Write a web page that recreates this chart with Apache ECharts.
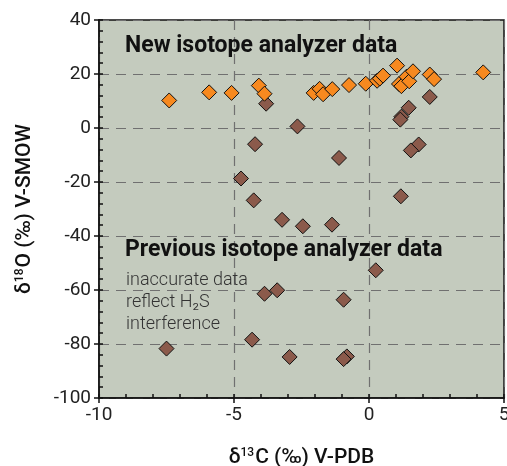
<!DOCTYPE html>
<html><head><meta charset="utf-8">
<script src="https://cdn.jsdelivr.net/npm/echarts@6/dist/echarts.min.js"></script>
<style>html,body{margin:0;padding:0;background:#fff}#c{width:507px;height:466px}</style>
</head><body><div id="c"></div>
<script>
// New isotope analyzer data: [d13C, d18O]
var newX = [-7.40, -5.92, -5.09, -4.08, -3.87, -2.05, -1.83, -1.70, -1.36, -0.74, -0.12, 0.30, 0.40, 0.52, 1.04, 1.11, 1.20, 1.39, 1.49, 1.63, 2.25, 2.41, 4.23];
var newY = [10.2, 13.2, 13.0, 15.7, 12.7, 13.0, 14.5, 12.5, 14.4, 15.9, 16.4, 17.5, 18.3, 19.4, 23.1, 16.3, 15.5, 19.0, 17.3, 21.0, 19.8, 18.1, 20.6];
// Previous isotope analyzer data
var oldX = [-3.81, 2.25, 1.47, 1.20, 1.16, -2.65, -4.22, 1.84, 1.55, -1.11, -4.74, -4.27, 1.18, -3.22, -2.45, -1.37, 0.25, -3.87, -3.40, -0.94, -4.33, -7.50, -2.94, -0.82, -0.94];
var oldY = [9.0, 11.5, 7.5, 4.2, 3.1, 0.6, -6.0, -6.1, -8.3, -11.1, -18.7, -26.8, -25.3, -34.0, -36.4, -35.8, -52.7, -61.4, -60.1, -63.6, -78.4, -81.7, -84.8, -84.6, -85.6];
var xTicks = [-10, -5, 0, 5];
var yTicks = [-100, -80, -60, -40, -20, 0, 20, 40];

function pairs(xs, ys) { return xs.map(function (x, i) { return [x, ys[i]]; }); }

var FONT = 'Roboto';
var nameRich = {
  a: { fontSize: 21, fontWeight: 500, color: '#111', fontFamily: FONT },
  s: { fontSize: 12, fontWeight: 500, color: '#111', fontFamily: FONT, verticalAlign: 'top', padding: [0, 1, 0, 0] }
};
var gridRect = { left: 99, right: 3, top: 20, bottom: 68, outerBoundsMode: 'none', containLabel: false };
var minorTickStyle = { show: true, inside: true, length: 4, lineStyle: { color: '#111', width: 1.5 } };
var chart = echarts.init(document.getElementById('c'), null, { renderer: 'canvas' });
chart.setOption({
  animation: false,
  textStyle: { fontFamily: FONT },
  grid: [
    Object.assign({ show: true, backgroundColor: '#c4cbbe', borderColor: '#111', borderWidth: 1.5 }, gridRect),
    Object.assign({ show: false }, gridRect)
  ],
  xAxis: [{
    gridIndex: 0, type: 'value', min: xTicks[0], max: xTicks[xTicks.length - 1], interval: 5,
    name: '{a|δ}{s|13}{a|C (‰) V-PDB}', nameLocation: 'middle', nameGap: 49,
    nameTextStyle: { rich: nameRich },
    axisLine: { show: true, onZero: false, lineStyle: { color: '#111', width: 1.5 } },
    axisTick: { show: true, length: 5, lineStyle: { color: '#111', width: 1.5 } },
    axisLabel: { fontSize: 19, color: '#222', margin: 8, fontFamily: FONT },
    splitLine: { show: true, lineStyle: { color: '#707070', type: [10, 7], width: 1.2 } }
  }, {
    gridIndex: 1, type: 'value', min: xTicks[0], max: xTicks[xTicks.length - 1], interval: 1, position: 'bottom',
    axisLine: { show: false, onZero: false }, axisLabel: { show: false }, splitLine: { show: false },
    axisTick: minorTickStyle
  }],
  yAxis: [{
    gridIndex: 0, type: 'value', min: yTicks[0], max: yTicks[yTicks.length - 1], interval: 20,
    name: '{a|δ}{s|18}{a|O (‰) V-SMOW}', nameLocation: 'middle', nameGap: 64, nameRotate: 90,
    nameTextStyle: { rich: nameRich },
    axisLine: { show: true, onZero: false, lineStyle: { color: '#111', width: 1.5 } },
    axisTick: { show: true, length: 5, lineStyle: { color: '#111', width: 1.5 } },
    axisLabel: { fontSize: 19, color: '#222', margin: 8, fontFamily: FONT },
    splitLine: { show: true, lineStyle: { color: '#707070', type: [10, 7], width: 1.2 } }
  }, {
    gridIndex: 1, type: 'value', min: yTicks[0], max: yTicks[yTicks.length - 1], interval: 4, position: 'left',
    axisLine: { show: false, onZero: false }, axisLabel: { show: false }, splitLine: { show: false },
    axisTick: minorTickStyle
  }],
  series: [{
    name: 'Previous', type: 'scatter', symbol: 'diamond', symbolSize: 15,
    xAxisIndex: 0, yAxisIndex: 0,
    data: pairs(oldX, oldY),
    itemStyle: { color: '#8b5a4b', borderColor: '#111', borderWidth: 1, opacity: 1 }
  }, {
    name: 'New', type: 'scatter', symbol: 'diamond', symbolSize: 15,
    xAxisIndex: 0, yAxisIndex: 0,
    data: pairs(newX, newY),
    itemStyle: { color: '#f7891f', borderColor: '#111', borderWidth: 1, opacity: 1 }
  }],
  graphic: [
    { type: 'text', left: 125, top: 35, z: 100, style: { text: 'New isotope analyzer data', fontSize: 23, fontWeight: 'bold', fill: '#111', fontFamily: FONT } },
    { type: 'text', left: 125, top: 239, z: 100, style: { text: 'Previous isotope analyzer data', fontSize: 23, fontWeight: 'bold', fill: '#111', fontFamily: FONT } },
    { type: 'text', left: 126, top: 269, z: 100, style: { text: 'inaccurate data\nreflect H₂S\ninterference', fontSize: 18, fontWeight: 300, lineHeight: 22, fill: '#333', fontFamily: FONT } }
  ]
});
</script></body></html>
